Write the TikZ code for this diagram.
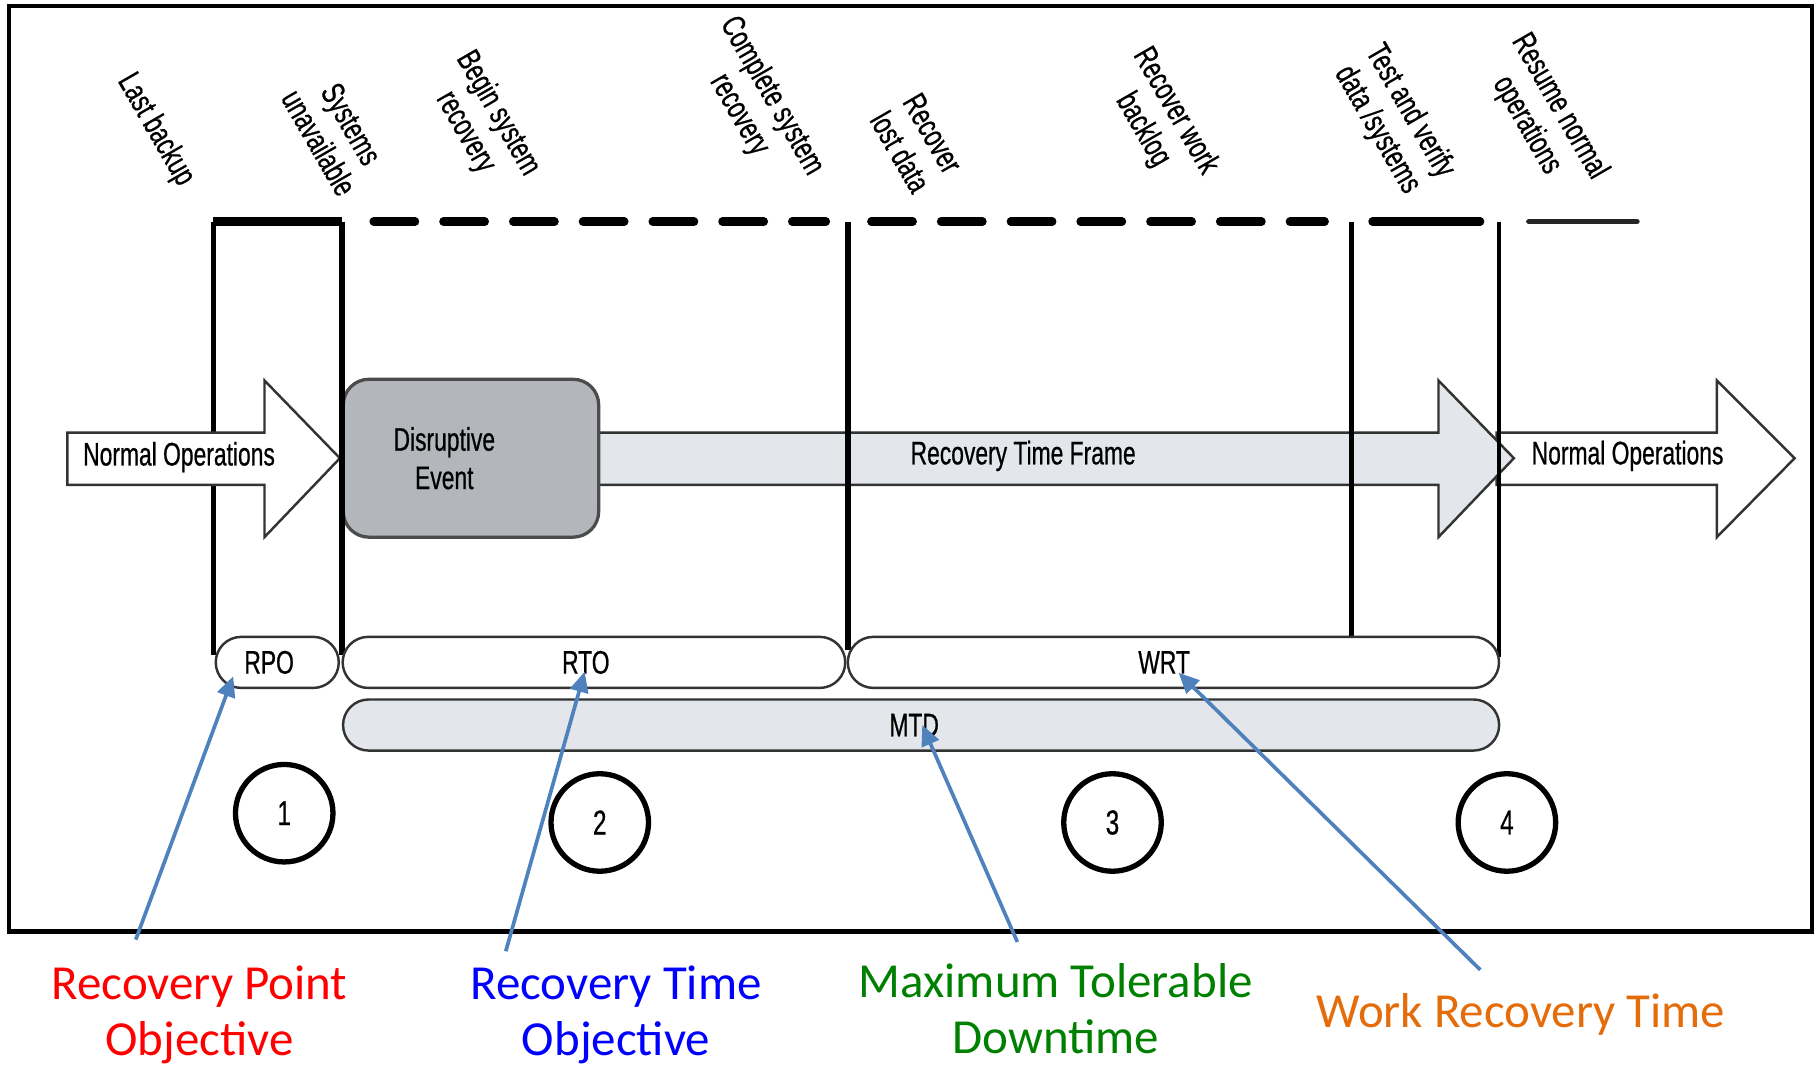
\documentclass[tikz,border=0pt]{standalone}
\usepackage{fontspec}
\setmainfont{Carlito}
\newfontfamily\estrecha[FakeStretch=0.7,FakeBold=0.6]{Liberation Sans}
\usetikzlibrary{arrows.meta,calc}
\definecolor{grisclaro}{HTML}{E3E6EA}
\definecolor{grisoscuro}{HTML}{B3B7BC}
\definecolor{azulflecha}{HTML}{4F81BD}
\definecolor{naranja}{HTML}{E46C0A}
\definecolor{verde}{HTML}{008000}
\tikzset{
	hito/.style={font=\estrecha\fontsize{8}{9.2}\selectfont, align=center, rotate=-60, inner sep=0pt},
	pastilla/.style={draw=black!80, line width=0.6pt, rounded corners=0.22cm, minimum height=0.44cm, inner sep=0pt, font=\estrecha\fontsize{8}{9}\selectfont},
	fase/.style={circle, draw, line width=1.3pt, minimum size=0.84cm, inner sep=0pt, font=\estrecha\fontsize{8.5}{9}\selectfont},
	rotulo/.style={font=\estrecha\fontsize{8}{9.4}\selectfont, align=center, inner sep=0pt},
	puntero/.style={azulflecha, line width=0.9pt, -{Triangle[length=5pt,width=4.5pt]}},
	leyenda/.style={font=\fontsize{12}{13.7}\selectfont, align=center, inner sep=0pt, anchor=north},
	bloque/.style={draw=black!80, line width=0.6pt},
	linea/.style={line width=1.4pt},
	tope/.style={line width=2pt},
	guiones/.style={tope, line cap=round, dash pattern=on 10.2pt off 6.9pt},
}
\begin{document}
\begin{tikzpicture}[x=0.01cm, y=-0.01cm]
	\useasboundingbox (0,0) rectangle (1568,922);
	\draw[line width=1pt] (8,5) rectangle (1562,803); % marco

	\draw[linea] (184,191) -- (184,565); % queda bajo la primera flecha

	% flechas de bloque
	\draw[bloque, fill=white] (1290,373) -- (1480,373) -- (1480,328) -- (1547,395) -- (1480,463) -- (1480,418) -- (1290,418) -- cycle;
	\draw[bloque, fill=grisclaro] (500,373) -- (1240,373) -- (1240,328) -- (1305,395) -- (1240,463) -- (1240,418) -- (500,418) -- cycle;
	\draw[bloque, fill=white] (58,373) -- (228,373) -- (228,328) -- (293,395) -- (228,463) -- (228,418) -- (58,418) -- cycle;
	\node[draw=black!70, line width=0.8pt, fill=grisoscuro, rounded corners=0.22cm, minimum width=2.2cm, minimum height=1.36cm] (evento) at (406,395) {};

	\node[rotulo, anchor=west] (normal1) at (71,394) {Normal Operations};
	\node[rotulo] (disruptivo) at (383,395) {Disruptive\\Event};
	\node[rotulo] (recuperacion) at (882,393) {Recovery Time Frame};
	\node[rotulo] (normal2) at (1403,393) {Normal Operations};

	% linea de tiempo
	\draw[tope] (184,191) -- (295,191);
	\draw[guiones] (322,191) -- (712,191);
	\draw[guiones] (751,191) -- (1142,191);
	\draw[tope, line cap=round] (1183,191) -- (1276,191);
	\draw[line width=1.4pt, line cap=round, black!85] (1318,191) -- (1411,191);
	\draw[linea] (295,191) -- (295,565);
	\draw[linea] (731,191) -- (731,560);
	\draw[linea] (1165,191) -- (1165,549);
	\draw[linea, line width=1.1pt] (1292,191) -- (1292,566);

	\node[hito] (h1) at (134,112) {Last backup};
	\node[hito] (h2) at (289,115) {Systems\\unavailable};
	\node[hito] (h3) at (415,106) {Begin system\\recovery};
	\node[hito] (h4) at (651,91) {Complete system\\recovery};
	\node[hito] (h5) at (790,123) {Recover\\lost data};
	\node[hito] (h6) at (999,104) {Recover work\\backlog};
	\node[hito] (h7) at (1201,104) {Test and verify\\data /systems};
	\node[hito] (h8) at (1330,100) {Resume normal\\operations};

	% intervalos
	\node[pastilla, fill=white, minimum width=1.06cm] (rpo) at (239,571) {\kern-0.14cm RPO};
	\node[pastilla, fill=white, minimum width=4.33cm] (rto) at (512,571) {\kern-0.14cm RTO};
	\node[pastilla, fill=white, minimum width=5.61cm] (wrt) at (1011.5,571) {\kern-0.16cm WRT};
	\node[pastilla, fill=grisclaro, minimum width=9.96cm] (mtd) at (794,625) {\kern-0.12cm MTD};

	\node[fase] (f1) at (245,701) {1};
	\node[fase] (f2) at (517,709) {2};
	\node[fase] (f3) at (959,709) {3};
	\node[fase] (f4) at (1299,709) {4};

	% leyendas
	\node[leyenda, text=red] (l-rpo) at (172,832) {Recovery Point\\Objective};
	\node[leyenda, text=blue] (l-rto) at (531,832) {Recovery Time\\Objective};
	\node[leyenda, text=verde] (l-mtd) at (910,830) {Maximum Tolerable\\Downtime};
	\node[leyenda, text=naranja] (l-wrt) at (1311,856) {Work Recovery Time};

	\coordinate (c-rpo) at (117,810);
	\coordinate (c-rto) at (436,820);
	\coordinate (c-mtd) at (877,812);
	\coordinate (c-wrt) at (1276,836);
	\draw[puntero] (c-rpo) -- ($(rpo)+(-38,12)$);
	\draw[puntero] (c-rto) -- ($(rto)+(-8,8)$);
	\draw[puntero] (c-mtd) -- ($(mtd)+(1,0)$);
	\draw[puntero] (c-wrt) -- ($(wrt)+(4.5,9)$);
\end{tikzpicture}
\end{document}
